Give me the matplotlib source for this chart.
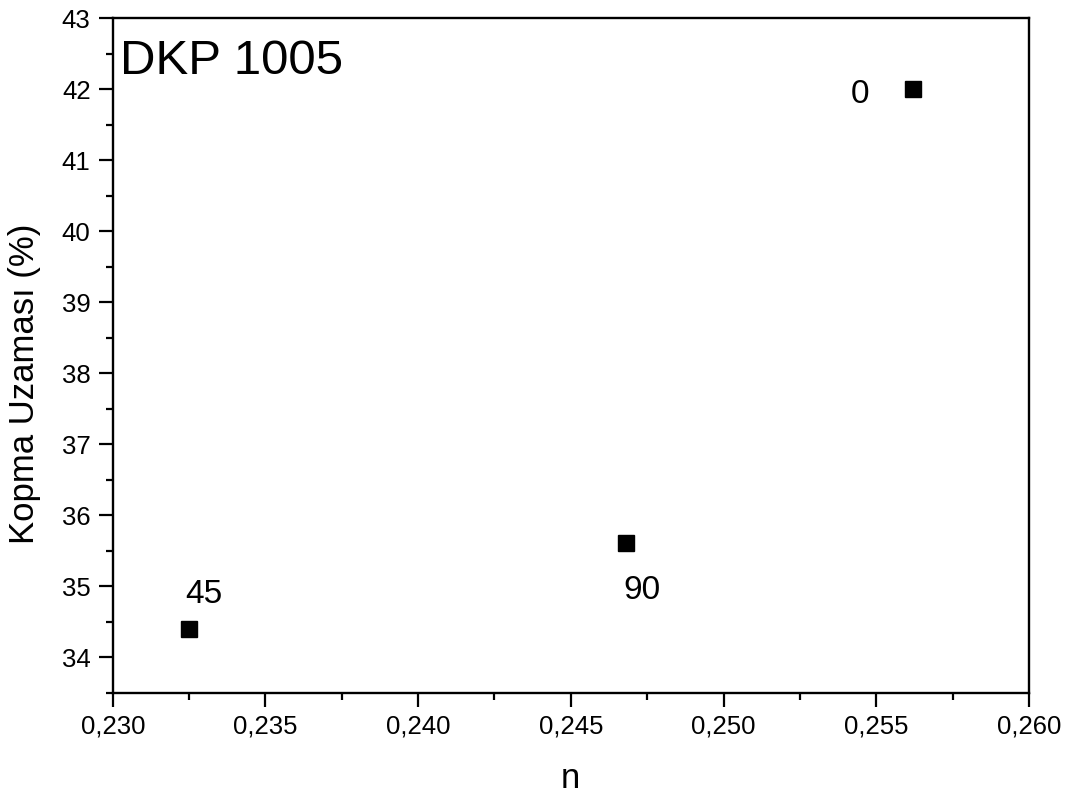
import matplotlib
matplotlib.use("Agg")
from matplotlib import pyplot as plt
from matplotlib.ticker import MultipleLocator, FuncFormatter

plt.rcParams['font.family'] = ['Liberation Sans', 'DejaVu Sans']

# data
n_vals = [0.2562, 0.2325, 0.2468]
uzama = [42.0, 34.4, 35.6]
angles = ['0', '45', '90']
# label offsets in pixels (dx, dy) relative to each point, and alignment
offsets = [(-44, -14, 'right'), (-4, 26, 'left'), (-2, -56, 'left')]

fig = plt.figure(figsize=(10.74, 7.96), dpi=100)
ax = fig.add_subplot(111)
fig.subplots_adjust(left=0.105, right=0.958, bottom=0.13, top=0.977)

ax.plot(n_vals, uzama, 's', color='black', markersize=11, linestyle='none')

for x, y, lab, (dx, dy, ha) in zip(n_vals, uzama, angles, offsets):
    ax.annotate(lab, (x, y), xytext=(dx, dy), textcoords='offset pixels',
                ha=ha, va='baseline', fontsize=24)

ax.text(0.008, 0.918, 'DKP 1005', transform=ax.transAxes, fontsize=35.5,
        ha='left', va='baseline')

ax.set_xlim(0.230, 0.260)
ax.set_ylim(33.5, 43)
ax.xaxis.set_major_locator(MultipleLocator(0.005))
ax.xaxis.set_minor_locator(MultipleLocator(0.0025))
ax.yaxis.set_major_locator(MultipleLocator(1))
ax.yaxis.set_minor_locator(MultipleLocator(0.5))
ax.xaxis.set_major_formatter(FuncFormatter(lambda v, p: f"{v:.3f}".replace('.', ',')))
ax.yaxis.set_major_formatter(FuncFormatter(lambda v, p: f"{v:.0f}"))

for s in ax.spines.values():
    s.set_linewidth(1.7)
ax.tick_params(which='major', direction='out', length=10, width=1.6,
               labelsize=18.5, pad=6, top=False, right=False)
ax.tick_params(which='minor', direction='out', length=5, width=1.6,
               top=False, right=False)

ax.set_xlabel('n', fontsize=25, labelpad=17)
ax.set_ylabel('Kopma Uzaması (%)', fontsize=25)
ax.yaxis.set_label_coords(-0.078, 0.458)

fig.savefig('out.png', dpi=100)
